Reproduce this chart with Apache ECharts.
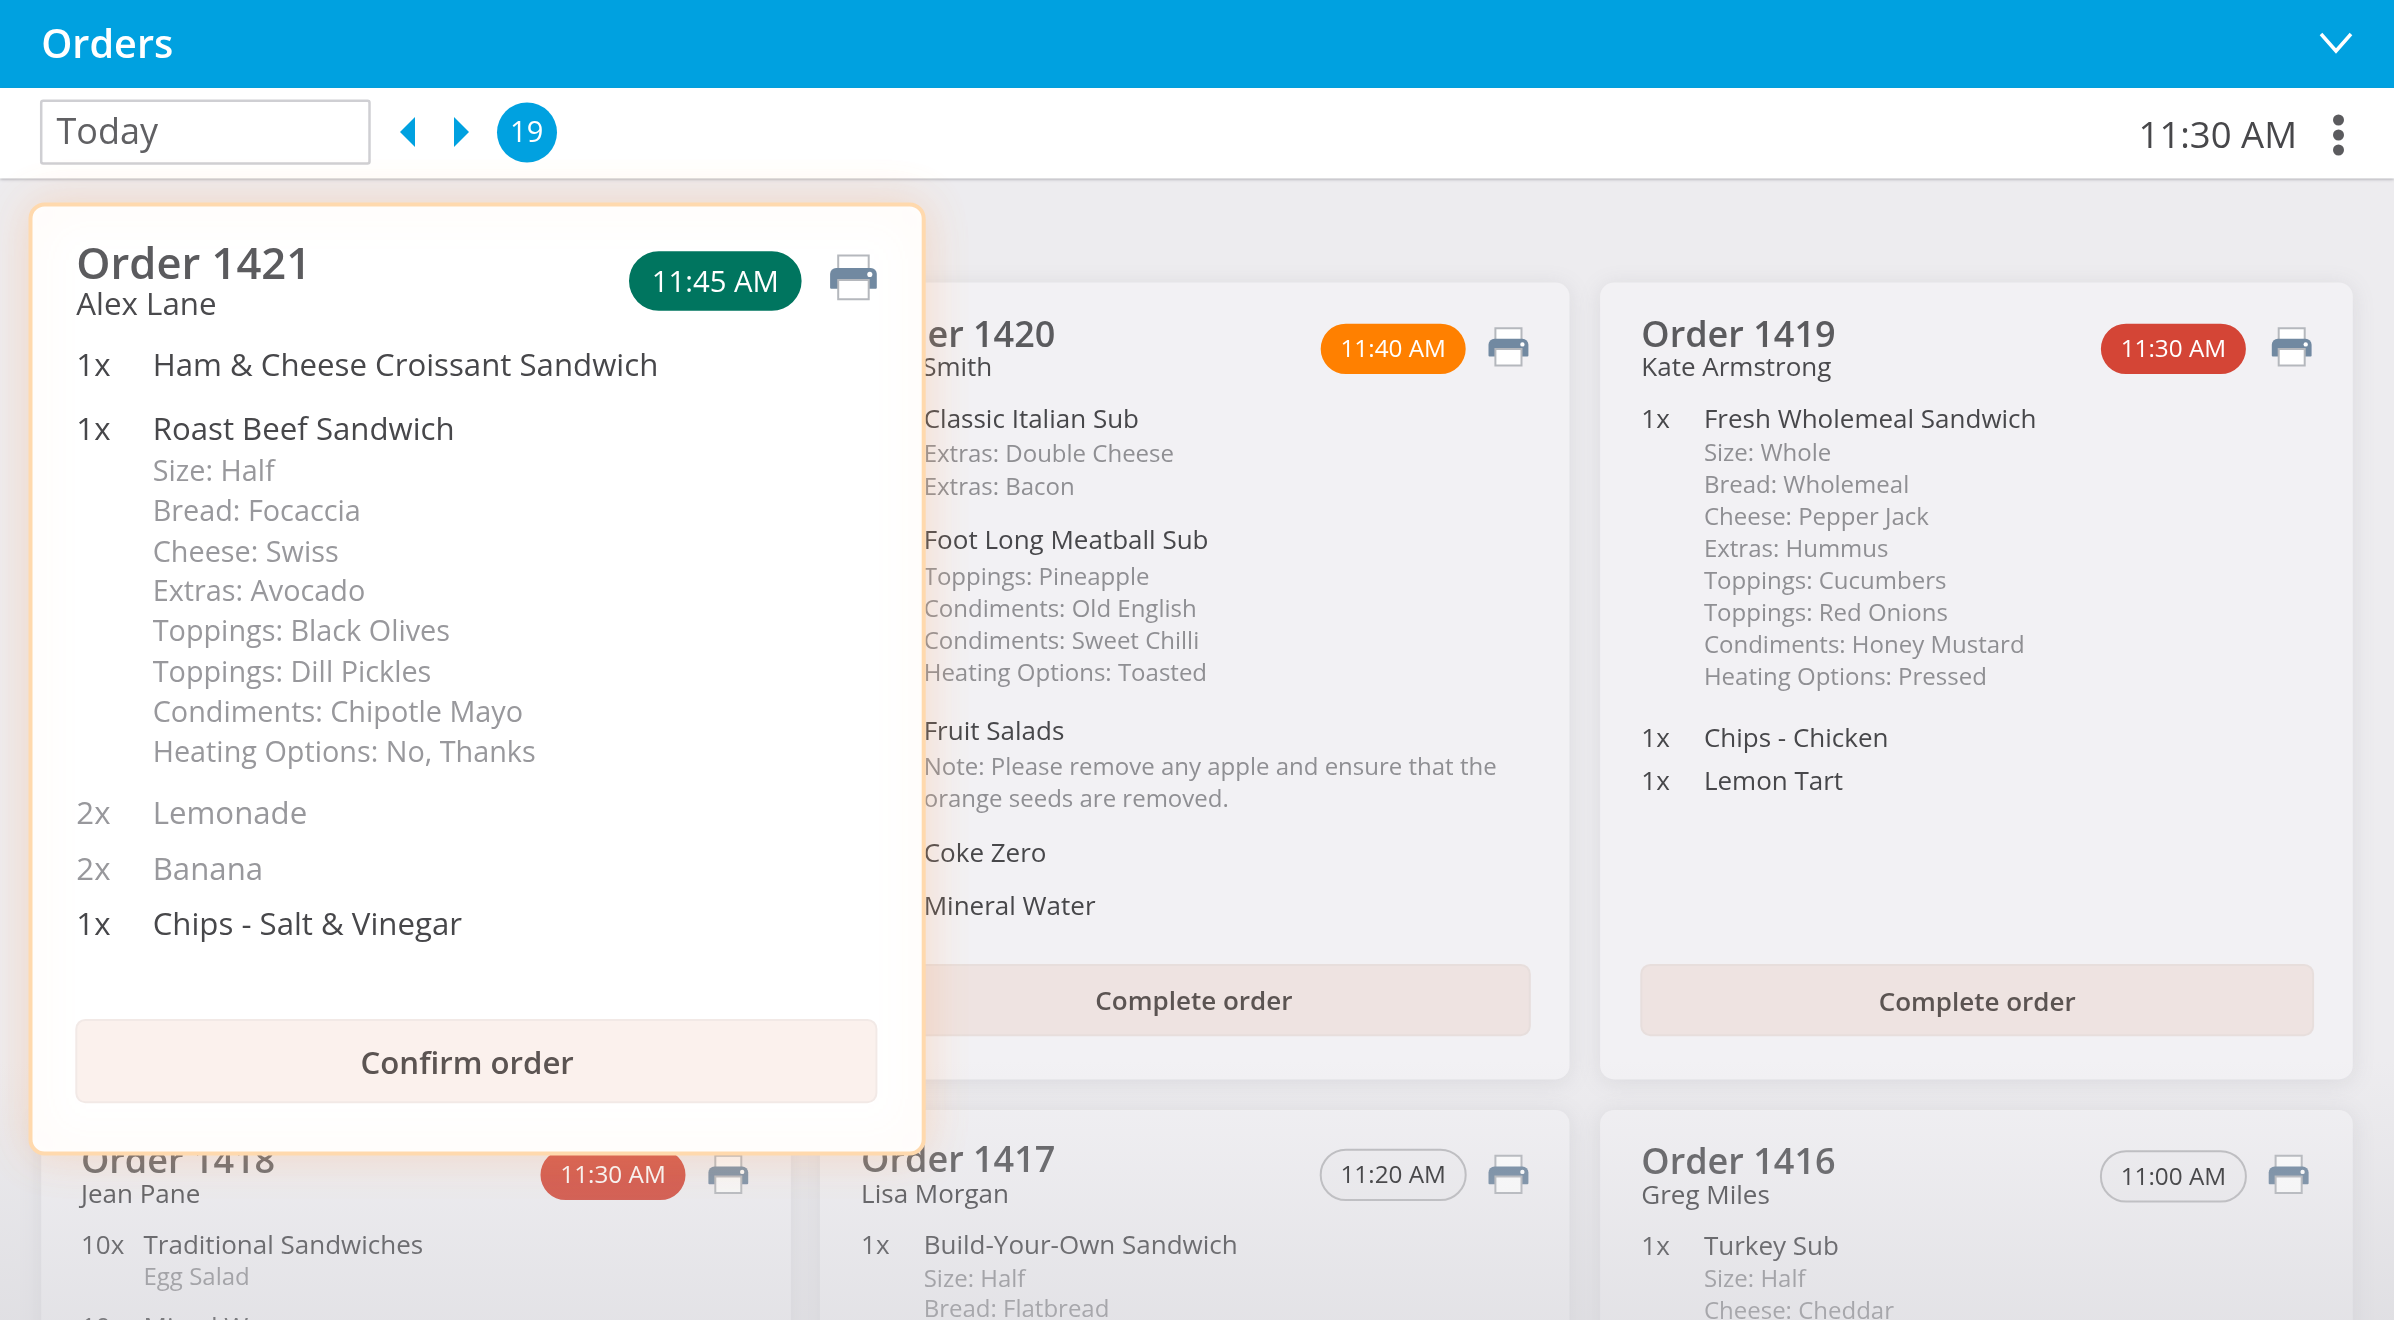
<!DOCTYPE html>
<html>
<head>
<meta charset="utf-8">
<title>Orders</title>
<style>
html,body{margin:0;padding:0;background:#edecef;}
#main{width:2394px;height:1320px;}
</style>
<script src="https://cdn.jsdelivr.net/npm/echarts@6/dist/echarts.min.js"></script>
</head>
<body>
<div id="main"></div>
<script>
// texts
var headerTitle = 'Orders';
var dateLabel = 'Today';
var dayBadge = '19';
var clockLabel = '11:30 AM';
var confirmLabel = 'Confirm order';
var completeLabel = 'Complete order';

var order1421 = ['Order 1421', 'Alex Lane', '11:45 AM'];
var order1420 = ['Order 1420', 'Smith', '11:40 AM'];
var order1419 = ['Order 1419', 'Kate Armstrong', '11:30 AM'];
var order1418 = ['Order 1418', 'Jean Pane', '11:30 AM'];
var order1417 = ['Order 1417', 'Lisa Morgan', '11:20 AM'];
var order1416 = ['Order 1416', 'Greg Miles', '11:00 AM'];

// [quantity, text] - empty quantity means a detail line
var rows1421 = [
    ['1x', 'Ham & Cheese Croissant Sandwich'],
    ['1x', 'Roast Beef Sandwich'],
    ['', 'Size: Half'],
    ['', 'Bread: Focaccia'],
    ['', 'Cheese: Swiss'],
    ['', 'Extras: Avocado'],
    ['', 'Toppings: Black Olives'],
    ['', 'Toppings: Dill Pickles'],
    ['', 'Condiments: Chipotle Mayo'],
    ['', 'Heating Options: No, Thanks'],
    ['2x', 'Lemonade'],
    ['2x', 'Banana'],
    ['1x', 'Chips - Salt & Vinegar']
];
var mutedItems = ['Lemonade', 'Banana'];
var rows1420 = [
    ['1x', 'Classic Italian Sub'],
    ['', 'Extras: Double Cheese'],
    ['', 'Extras: Bacon'],
    ['1x', 'Foot Long Meatball Sub'],
    ['', 'Toppings: Pineapple'],
    ['', 'Condiments: Old English'],
    ['', 'Condiments: Sweet Chilli'],
    ['', 'Heating Options: Toasted'],
    ['1x', 'Fruit Salads'],
    ['', 'Note: Please remove any apple and ensure that the'],
    ['', 'orange seeds are removed.'],
    ['1x', 'Coke Zero'],
    ['1x', 'Mineral Water']
];
var rows1419 = [
    ['1x', 'Fresh Wholemeal Sandwich'],
    ['', 'Size: Whole'],
    ['', 'Bread: Wholemeal'],
    ['', 'Cheese: Pepper Jack'],
    ['', 'Extras: Hummus'],
    ['', 'Toppings: Cucumbers'],
    ['', 'Toppings: Red Onions'],
    ['', 'Condiments: Honey Mustard'],
    ['', 'Heating Options: Pressed'],
    ['1x', 'Chips - Chicken'],
    ['1x', 'Lemon Tart']
];
var rows1418 = [
    ['10x', 'Traditional Sandwiches'],
    ['', 'Egg Salad'],
    ['10x', 'Mixed Wraps']
];
var rows1417 = [
    ['1x', 'Build-Your-Own Sandwich'],
    ['', 'Size: Half'],
    ['', 'Bread: Flatbread']
];
var rows1416 = [
    ['1x', 'Turkey Sub'],
    ['', 'Size: Half'],
    ['', 'Cheese: Cheddar']
];

// row heights, in the same order as the rows above (thumbnail units, see S)
var rowY1421 = [239, 281, 308.5, 334.5, 361, 387, 413, 440, 466, 492, 532.5, 569, 605];
var rowY1420 = [274, 297, 318, 353, 377, 398, 419, 440, 478.5, 502, 523, 558, 593];
var rowY1419 = [274, 296, 317, 338, 359, 380, 401, 422, 443, 483, 511];
var rowY1418 = [815, 836, 869];
var rowY1417 = [815, 837, 857];
var rowY1416 = [816, 837, 858];

var S = 2394 / 1568;
var FONT = '"Open Sans"';
var els = [];

function px(v) { return Math.round(v * S * 10) / 10; }

function txt(x, y, s, size, color, weight, align) {
    els.push({
        type: 'text', x: px(x), y: px(y + 1.4), silent: true,
        style: {
            text: s, fill: color,
            font: (weight || 400) + ' ' + size + 'px ' + FONT,
            textAlign: align || 'left', textVerticalAlign: 'middle'
        }
    });
}

function box(x0, y0, x1, y1, r, style) {
    els.push({
        type: 'rect', silent: true,
        shape: { x: px(x0), y: px(y0), width: px(x1) - px(x0), height: px(y1) - px(y0), r: r },
        style: style
    });
}

function printer(cx, cy, k) {
    // paper, body, paper again on top of the body
    box(cx - 9.8 * k, cy - 14.4 * k, cx + 9.8 * k, cy - 3 * k, 0, { fill: '#fff', stroke: '#b5b8bd', lineWidth: 2 });
    box(cx - 15 * k, cy - 6.4 * k, cx + 15 * k, cy + 7 * k, [6, 6, 1, 1], { fill: '#7189a1' });
    box(cx - 9.8 * k, cy + 1.3 * k, cx + 9.8 * k, cy + 13.7 * k, 0, { fill: '#fff', stroke: '#b5b8bd', lineWidth: 2 });
    els.push({
        type: 'circle', silent: true,
        shape: { cx: px(cx + 10.5 * k), cy: px(cy - 2.2 * k), r: 2.5 * k },
        style: { fill: '#fff' }
    });
}

function pill(x0, x1, y0, y1, label, fill, color, size, stroke, dy) {
    box(x0, y0, x1, y1, px(y1 - y0) / 2, { fill: fill, stroke: stroke || null, lineWidth: 2 });
    txt((x0 + x1) / 2, (y0 + y1) / 2 - 0.5 + (dy || 0), label, size, color, 400, 'center');
}

function card(x0, y0, x1, y1) {
    box(x0, y0, x1, y1, 14, {
        fill: '#f2f1f4',
        shadowBlur: 22, shadowColor: 'rgba(120,120,130,0.16)', shadowOffsetY: 3
    });
}

function rowsOf(rows, ys, qtyX, itemX, itemSize, detailSize, dark, grey) {
    rows.forEach(function (r, i) {
        if (r[0]) {
            var c = mutedItems.indexOf(r[1]) >= 0 ? grey : dark;
            txt(qtyX, ys[i], r[0], itemSize, c);
            txt(itemX, ys[i], r[1], itemSize, c);
        } else {
            txt(itemX, ys[i], r[1], detailSize, grey);
        }
    });
}

function head(o, x, nameX, yTitle, yName) {
    txt(x, yTitle, o[0], 36, '#5b5b5e', 600);
    txt(nameX, yName, o[1], 26, '#4a4a4d');
}

// ---- page
var DARK = '#47474a', GREY = '#8f8f93';
box(0, 0, 1568, 865, 0, { fill: '#edecef' });

// back cards
card(537, 185, 1028, 707);
card(1048, 185, 1541, 707);
card(27, 727, 518, 900);
card(537, 727, 1028, 900);
card(1048, 727, 1541, 900);

// order 1420
head(order1420, 564, 604, 219, 240);
pill(865, 960, 212, 245, order1420[2], '#ff8000', '#fff', 24.3);
printer(988, 227.5, 0.87);
rowsOf(rows1420, rowY1420, 564, 605, 26, 24, DARK, GREY);
box(540, 632, 1002, 678, 9, { fill: '#eee3e1', stroke: '#e7dedc', lineWidth: 2 });
txt(782, 655, completeLabel, 26, '#5b5452', 600, 'center');

// order 1419
head(order1419, 1075, 1075, 219, 240);
pill(1376, 1471, 212, 245, order1419[2], '#d44536', '#fff', 24.3);
printer(1501, 227.5, 0.87);
rowsOf(rows1419, rowY1419, 1075, 1116, 26, 24, DARK, GREY);
box(1075, 632, 1515, 678, 9, { fill: '#eee3e1', stroke: '#e7dedc', lineWidth: 2 });
txt(1295, 656, completeLabel, 26, '#5b5452', 600, 'center');

// order 1418
head(order1418, 53, 53, 760, 781.5);
pill(354, 449, 753, 786, order1418[2], '#d44536', '#fff', 24.3);
printer(477, 769.5, 0.87);
rowsOf(rows1418, rowY1418, 53, 94, 26, 24, DARK, GREY);

// order 1417
head(order1417, 564, 564, 759.5, 781.5);
pill(865, 960, 753, 786, order1417[2], '#f0eff2', '#2c2c2e', 24.3, '#bcbcbf');
printer(988, 769.5, 0.87);
rowsOf(rows1417, rowY1417, 564, 605, 26, 24, DARK, GREY);

// order 1416
head(order1416, 1075, 1075, 760.5, 782.5);
pill(1376, 1471, 754, 787, order1416[2], '#f0eff2', '#2c2c2e', 24.3, '#bcbcbf');
printer(1499, 769.5, 0.87);
rowsOf(rows1416, rowY1416, 1075, 1116, 26, 24, DARK, GREY);

// the screen gets darker towards the bottom
els.push({
    type: 'rect', silent: true,
    shape: { x: 0, y: 1060, width: 2394, height: 260 },
    style: {
        fill: {
            type: 'linear', x: 0, y: 0, x2: 0, y2: 1,
            colorStops: [{ offset: 0, color: 'rgba(205,205,210,0)' }, { offset: 1, color: 'rgba(205,205,210,0.4)' }]
        }
    }
});

// header + toolbar
box(0, 0, 1568, 57.6, 0, { fill: '#00a1e0' });
txt(27, 29.5, headerTitle, 39.6, '#fff', 600);
els.push({
    type: 'polyline', silent: true,
    shape: { points: [[2321, 34], [2336, 51], [2351, 34]] },
    style: { stroke: '#fff', lineWidth: 3.5, fill: null }
});
box(0, 57.6, 1568, 117, 0, { fill: '#fff', shadowBlur: 3, shadowColor: 'rgba(90,90,100,0.45)', shadowOffsetY: 1 });
box(27, 66, 242, 107, 2, { fill: '#fff', stroke: '#cfcfd3', lineWidth: 2.5 });
txt(37, 86, dateLabel, 36, '#606063');
els.push({ type: 'polygon', silent: true, shape: { points: [[415, 117], [400, 132], [415, 147]] }, style: { fill: '#00a1e0' } });
els.push({ type: 'polygon', silent: true, shape: { points: [[454, 117], [469, 132], [454, 147]] }, style: { fill: '#00a1e0' } });
els.push({ type: 'circle', silent: true, shape: { cx: 527, cy: 132.5, r: 30 }, style: { fill: '#00a1e0' } });
txt(345, 86, dayBadge, 29, '#fff', 500, 'center');
txt(1504.5, 88.5, clockLabel, 36.5, '#47474a', 500, 'right');
[120, 135, 150].forEach(function (y) {
    els.push({ type: 'circle', silent: true, shape: { cx: 2338.5, cy: y, r: 5.5 }, style: { fill: '#5b5b5e' } });
});

// the open order sits over everything else
box(20, 134, 605, 755.5, 14, {
    fill: '#fff', stroke: '#ffd9ad', lineWidth: 4,
    shadowBlur: 46, shadowColor: 'rgba(255,170,110,0.32)'
});
txt(50, 173.5, order1421[0], 43.5, '#5b5b5e', 600);
txt(50, 199, order1421[1], 31.3, '#4a4a4d');
pill(412, 525, 164.5, 203.5, order1421[2], '#00755f', '#fff', 29.3, null, 1);
printer(559, 182, 1.02);
rowsOf(rows1421, rowY1421, 50, 100, 31.2, 28.8, '#47474a', '#98989c');
box(50, 668, 574, 722, 9, { fill: '#fbf1ed', stroke: '#f2e9e6', lineWidth: 2 });
txt(306, 696.5, confirmLabel, 31.2, '#5b5452', 600, 'center');

els.forEach(function (e) { e.z = 1; e.zlevel = 0; });

var myChart = echarts.init(document.getElementById('main'));
myChart.setOption({
    animation: false,
    backgroundColor: '#edecef',
    graphic: { elements: els }
});
</script>
</body>
</html>
